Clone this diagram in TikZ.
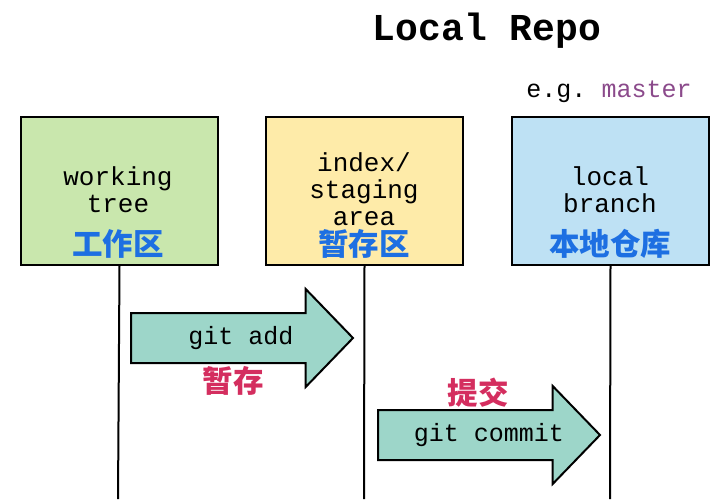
\documentclass[tikz,border=0pt]{standalone}
\usepackage{fontspec}
\setmonofont{Liberation Mono}
\newfontfamily\cjk{Noto Sans CJK SC}
\usetikzlibrary{shapes.arrows}
\definecolor{wtgreen}{HTML}{C9E7AD}
\definecolor{idxyellow}{HTML}{FEEBA9}
\definecolor{lbblue}{HTML}{BEE1F4}
\definecolor{cmdteal}{HTML}{9DD6C9}
\definecolor{zhblue}{HTML}{1D6FE2}
\definecolor{zhred}{HTML}{D42E5F}
\definecolor{brpurple}{HTML}{8B4A8B}
\begin{document}
\begin{tikzpicture}
[x=1pt,y=-1pt,
  boxdecorate/.style={draw,line width=2pt,minimum width=197pt,minimum height=148pt,anchor=north west,inner sep=0pt},%
  textdecorate/.style={font=\ttfamily\fontsize{26}{27}\selectfont,align=center,inner sep=0pt},%
  zhdecorate/.style={font=\cjk\bfseries\fontsize{30.5}{30.5}\selectfont,inner sep=0pt},%
  arrowdecorate/.style={single arrow,draw,line width=2pt,fill=cmdteal,anchor=tail,
    minimum height=222pt,single arrow head extend=24pt,single arrow tip angle=92,
    inner xsep=0pt,inner ysep=12pt,text height=18pt,text depth=6pt,
    font=\ttfamily\fontsize{25}{27}\selectfont},%
  linedecorate/.style={-,line width=2pt}]
\useasboundingbox (0,0) rectangle (726,499);
% title
\node (title) at (487,31) [font=\ttfamily\bfseries\fontsize{38}{38}\selectfont] {Local Repo};
\node (eg) at (609,92) [textdecorate,font=\ttfamily\fontsize{25}{27}\selectfont] {e.g. \textcolor{brpurple}{master}};
% boxes
\node (wt) at (20,116) [boxdecorate,fill=wtgreen] {};
\node (idx) at (265,116) [boxdecorate,fill=idxyellow] {};
\node (lb) at (511,116) [boxdecorate,fill=lbblue] {};
\node (wtl) at (118,190) [textdecorate] {working\\tree};
\node (idxl) at (364,189) [textdecorate] {index/\\staging\\area};
\node (lbl) at (610,190) [textdecorate] {local\\branch};
\node (wtz) at (118,244) [zhdecorate,text=zhblue] {工作区};
\node (idxz) at (364,244) [zhdecorate,text=zhblue] {暂存区};
\node (lbz) at (610,244) [zhdecorate,text=zhblue] {本地仓库};
% lifelines
\coordinate (wtend) at (118,499);
\coordinate (idxend) at (364,499);
\coordinate (lbend) at (610,499);
\path
(wt.south) edge[linedecorate] (wtend)
(idx.south) edge[linedecorate] (idxend)
(lb.south) edge[linedecorate] (lbend);
% commands
\node (add) at (130,338) [arrowdecorate] {\hspace*{22pt}git add};
\node (commit) at (377,435) [arrowdecorate] {\hspace*{24pt}git commit};
\node (addz) at (233,381) [zhdecorate,text=zhred] {暂存};
\node (commitz) at (478,393) [zhdecorate,text=zhred] {提交};
\end{tikzpicture}
\end{document}
